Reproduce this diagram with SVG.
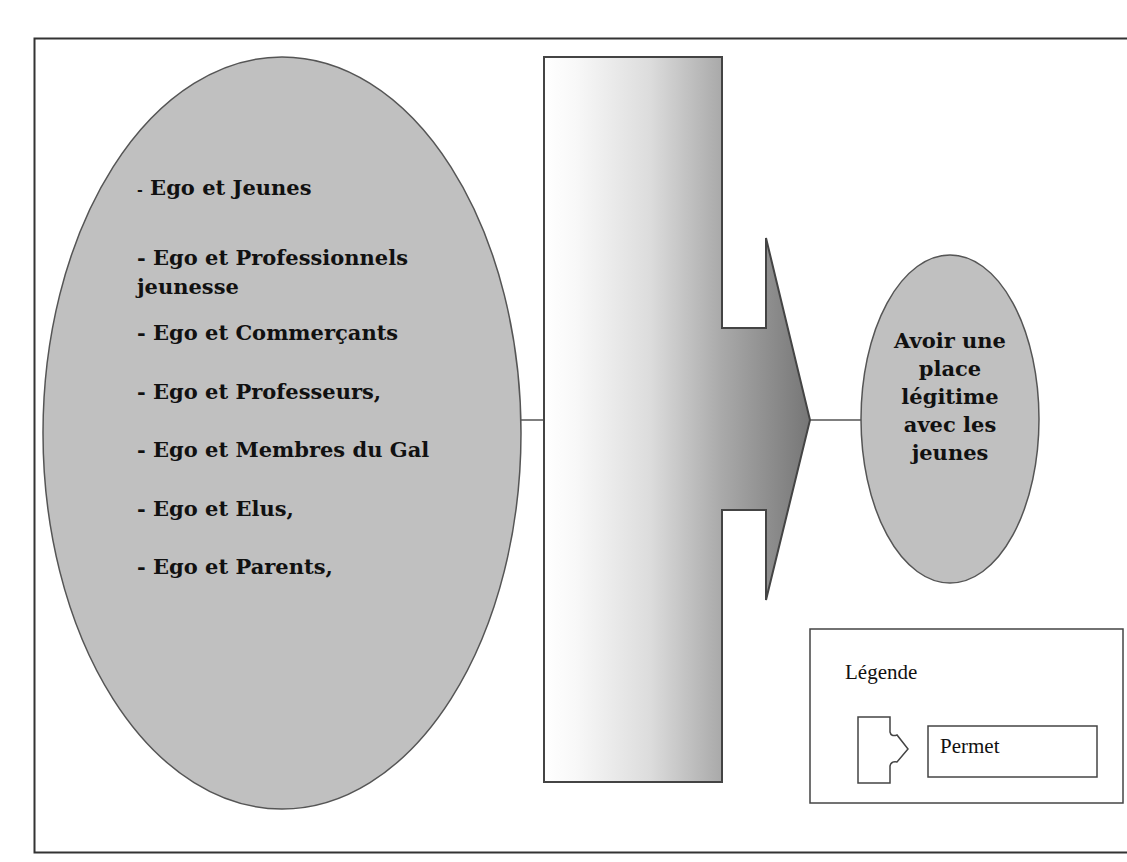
<svg xmlns="http://www.w3.org/2000/svg" width="1127" height="862" viewBox="0 0 1127 862">
<defs>
<linearGradient id="g" gradientUnits="userSpaceOnUse" x1="544" y1="0" x2="810" y2="0">
<stop offset="0" stop-color="#ffffff"/>
<stop offset="0.12" stop-color="#f8f8f8"/>
<stop offset="0.4" stop-color="#dcdcdc"/>
<stop offset="0.67" stop-color="#a9a9a9"/>
<stop offset="1" stop-color="#767676"/>
</linearGradient>
</defs>
<style>
.el{fill:#c0c0c0;stroke:#555;stroke-width:1.5}
.t{font-family:"DejaVu Serif",serif;font-weight:bold;font-size:21px;fill:#111}
.c{text-anchor:middle}
.l{font-family:"Liberation Serif",serif;font-size:21px;fill:#111}
.ln{stroke:#555;stroke-width:1.5;fill:none}
.bx{fill:#fff;stroke:#444;stroke-width:1.5}
</style>
<rect width="1127" height="862" fill="#fff"/>
<g id="frame"><path d="M1127,38.5 H34.5 V852.5 H1127" fill="none" stroke="#333" stroke-width="2"/></g>
<g id="connectors">
<line class="ln" x1="521" y1="420" x2="544" y2="420"/>
<line class="ln" x1="810" y1="420" x2="861" y2="420"/>
</g>
<g id="left-node">
<ellipse class="el" cx="282" cy="433" rx="239" ry="376"/>
<text class="t" x="137" y="195"><tspan font-size="14">-</tspan> Ego et Jeunes</text>
<text class="t" x="137" y="265">- Ego et Professionnels</text>
<text class="t" x="137" y="294">jeunesse</text>
<text class="t" x="137" y="340">- Ego et Commerçants</text>
<text class="t" x="137" y="399">- Ego et Professeurs,</text>
<text class="t" x="137" y="457">- Ego et Membres du Gal</text>
<text class="t" x="137" y="516">- Ego et Elus,</text>
<text class="t" x="137" y="574">- Ego et Parents,</text>
</g>
<g id="permet-arrow">
<path d="M544,57 H722 V328 H766 V238 L810,420 L766,600 V510 H722 V782 H544 Z" fill="url(#g)" stroke="#444" stroke-width="2" stroke-linejoin="miter"/>
</g>
<g id="right-node">
<ellipse class="el" cx="950" cy="419" rx="89" ry="164"/>
<text class="t c" x="950" y="348">Avoir une</text>
<text class="t c" x="950" y="376">place</text>
<text class="t c" x="950" y="404">légitime</text>
<text class="t c" x="950" y="432">avec les</text>
<text class="t c" x="950" y="460">jeunes</text>
</g>
<g id="legend">
<rect class="bx" x="810" y="629" width="313" height="174"/>
<text class="l" x="845" y="679">Légende</text>
<path d="M858,717 H890 V732 Q891,737 897,735 L908,749 L897,762 Q891,761 890,766 V783 H858 Z" fill="#fff" stroke="#444" stroke-width="1.5"/>
<rect class="bx" x="928" y="726" width="169" height="51"/>
<text class="l" x="940" y="753">Permet</text>
</g>
</svg>
